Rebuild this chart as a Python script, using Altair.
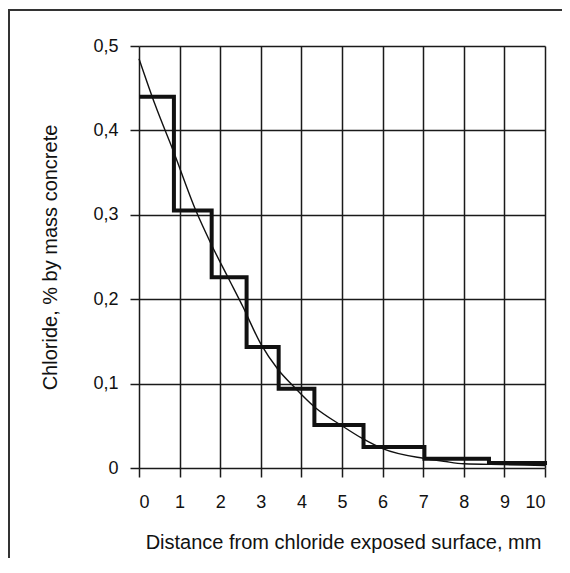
import altair as alt
import pandas as pd

# Measured chloride profile (step histogram) and fitted curve
step_x = [0, 0.86, 1.79, 2.65, 3.44, 4.32, 5.53, 7.03, 8.62, 10.05]
step_y = [0.44, 0.305, 0.226, 0.1435, 0.094, 0.051, 0.025, 0.011, 0.006, 0.006]

curve_x = [0, 0.4, 0.85, 1.4, 1.77, 2.19, 2.56, 3.0, 3.42, 3.84, 4.33, 5.0, 5.5, 6.0, 7.0, 7.5, 8.0, 9.0, 10.0]
curve_y = [0.485, 0.43, 0.375, 0.305, 0.266, 0.226, 0.191, 0.147, 0.117, 0.095, 0.072, 0.05, 0.035, 0.023, 0.0115, 0.008, 0.005, 0.004, 0.003]

x_ticks = [0, 1, 2, 3, 4, 5, 6, 7, 8, 9, 10]
y_ticks = [0, 0.1, 0.2, 0.3, 0.4, 0.5]

x_title = "Distance from chloride exposed surface, mm"
y_title = "Chloride, % by mass concrete"

step_df = pd.DataFrame({"x": step_x, "y": step_y})
curve_df = pd.DataFrame({"x": curve_x, "y": curve_y})

W, H = 406, 422
INK = "#111111"

x_enc = alt.X(
    "x:Q",
    scale=alt.Scale(domain=[0, 10], nice=False, zero=False),
    axis=alt.Axis(
        values=x_ticks,
        title=x_title,
        format="d",
        labelPadding=16,
        titleX=W / 2 + 1,
        titleY=74,
        titleAlign="center",
        titleBaseline="middle",
    ),
)
y_enc = alt.Y(
    "y:Q",
    scale=alt.Scale(domain=[0, 0.5], nice=False),
    axis=alt.Axis(
        values=y_ticks,
        title=y_title,
        labelExpr="datum.value == 0 ? '0' : replace(format(datum.value, '.1f'), '.', ',')",
        labelPadding=12,
        titleX=-89,
        titleY=H / 2,
        titleAngle=270,
        titleAlign="center",
        titleBaseline="middle",
    ),
)

frame = alt.Chart(alt.Data(values=[{"a": 1}])).mark_rect(
    filled=False, stroke="#333333", strokeWidth=2, clip=False
).encode(
    x=alt.value(-130), x2=alt.value(700), y=alt.value(-36), y2=alt.value(700)
)

step = alt.Chart(step_df).mark_line(
    interpolate="step-after", strokeWidth=4, color=INK, clip=False, strokeJoin="miter"
).encode(x=x_enc, y=y_enc)

curve = alt.Chart(curve_df).mark_line(
    interpolate="monotone", strokeWidth=1.4, color=INK
).encode(x="x:Q", y="y:Q")

chart = (
    alt.layer(frame, step, curve)
    .properties(
        width=W,
        height=H,
        autosize=alt.AutoSizeParams(type="none"),
        padding={"left": 131, "top": 38, "right": 17, "bottom": 90},
        background="white",
    )
    .configure_view(stroke="transparent")
    .configure_axis(
        domain=False,
        grid=True,
        gridColor="#1a1a1a",
        gridWidth=1.5,
        gridOpacity=1,
        ticks=True,
        tickColor="#1a1a1a",
        tickWidth=1.5,
        tickSize=9,
        labelFont="Liberation Sans",
        labelFontSize=18,
        labelColor=INK,
        titleFont="Liberation Sans",
        titleFontSize=20,
        titleFontWeight="normal",
        titleColor=INK,
    )
)

chart.save("out.html", embed_options={"renderer": "svg", "actions": False})
